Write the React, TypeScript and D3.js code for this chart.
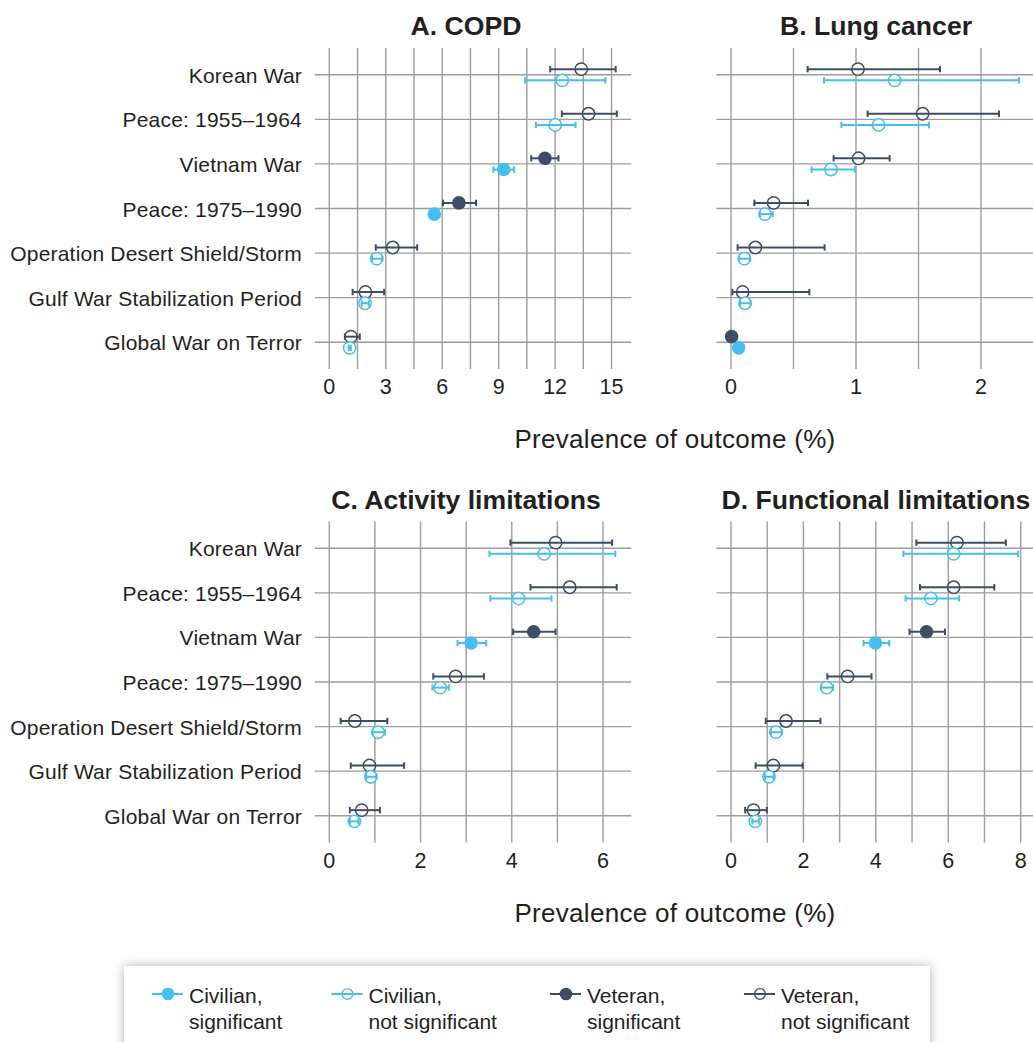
import React from "react";
import * as d3 from "d3";

const categories = [
  "Korean War",
  "Peace: 1955–1964",
  "Vietnam War",
  "Peace: 1975–1990",
  "Operation Desert Shield/Storm",
  "Gulf War Stabilization Period",
  "Global War on Terror",
];

const panelTitles = ["A. COPD", "B. Lung cancer", "C. Activity limitations", "D. Functional limitations"];
const xDomainMax = [16.05, 2.416, 6.62, 8.34];
const gridSteps = [1.5, 0.5, 1, 1];
const tickLabelsA = [0, 3, 6, 9, 12, 15];
const tickLabelsB = [0, 1, 2];
const tickLabelsC = [0, 2, 4, 6];
const tickLabelsD = [0, 2, 4, 6, 8];

// Panel A: COPD
const copdVetEst = [13.39, 13.78, 11.46, 6.89, 3.37, 1.92, 1.15];
const copdVetLo = [11.74, 12.36, 10.73, 6.04, 2.47, 1.24, 0.83];
const copdVetHi = [15.22, 15.28, 12.18, 7.8, 4.67, 2.91, 1.62];
const copdVetSig = [0, 0, 1, 1, 0, 0, 0];
const copdCivEst = [12.38, 12.01, 9.27, 5.58, 2.52, 1.9, 1.08];
const copdCivLo = [10.41, 10.98, 8.72, 5.52, 2.27, 1.72, 1.03];
const copdCivHi = [14.67, 13.09, 9.82, 5.64, 2.81, 2.1, 1.14];
const copdCivSig = [0, 0, 1, 1, 0, 0, 0];

// Panel B: Lung cancer
const lungVetEst = [1.016, 1.533, 1.021, 0.341, 0.195, 0.093, 0.005];
const lungVetLo = [0.613, 1.093, 0.821, 0.187, 0.053, 0.011, 0.0];
const lungVetHi = [1.672, 2.144, 1.269, 0.616, 0.749, 0.627, 0.01];
const lungVetSig = [0, 0, 0, 0, 0, 0, 1];
const lungCivEst = [1.309, 1.181, 0.8, 0.272, 0.107, 0.112, 0.061];
const lungCivLo = [0.744, 0.883, 0.645, 0.232, 0.064, 0.072, 0.055];
const lungCivHi = [2.304, 1.584, 0.992, 0.333, 0.152, 0.157, 0.067];
const lungCivSig = [0, 0, 0, 0, 0, 0, 1];

// Panel C: Activity limitations
const actVetEst = [4.96, 5.27, 4.48, 2.77, 0.56, 0.88, 0.71];
const actVetLo = [3.97, 4.41, 4.03, 2.28, 0.25, 0.47, 0.45];
const actVetHi = [6.2, 6.3, 4.96, 3.39, 1.27, 1.64, 1.11];
const actVetSig = [0, 0, 1, 0, 0, 0, 0];
const actCivEst = [4.71, 4.15, 3.11, 2.43, 1.07, 0.91, 0.55];
const actCivLo = [3.51, 3.53, 2.81, 2.26, 0.95, 0.81, 0.45];
const actCivHi = [6.27, 4.87, 3.44, 2.62, 1.22, 1.03, 0.64];
const actCivSig = [0, 0, 1, 0, 0, 0, 0];

// Panel D: Functional limitations
const funVetEst = [6.24, 6.15, 5.4, 3.22, 1.52, 1.17, 0.62];
const funVetLo = [5.12, 5.22, 4.93, 2.66, 0.96, 0.68, 0.39];
const funVetHi = [7.59, 7.27, 5.91, 3.88, 2.47, 1.98, 0.99];
const funVetSig = [0, 0, 1, 0, 0, 0, 0];
const funCivEst = [6.15, 5.52, 3.99, 2.64, 1.24, 1.05, 0.67];
const funCivLo = [4.76, 4.82, 3.66, 2.49, 1.1, 0.94, 0.59];
const funCivHi = [7.93, 6.3, 4.37, 2.82, 1.4, 1.18, 0.77];
const funCivSig = [0, 0, 1, 0, 0, 0, 0];

const legendLabels = [
  ["Civilian,", "significant"],
  ["Civilian,", "not significant"],
  ["Veteran,", "significant"],
  ["Veteran,", "not significant"],
];

const CIV = "#45bfee";
const VET = "#3f4c66";
const GRID = "#9c9c9c";
const TEXT = "#231f20";
const FONT = "'Liberation Sans', Arial, Helvetica, sans-serif";

type Series = { est: number[]; lo: number[]; hi: number[]; sig: number[] };

const panels: { vet: Series; civ: Series; ticks: number[] }[] = [
  { vet: { est: copdVetEst, lo: copdVetLo, hi: copdVetHi, sig: copdVetSig }, civ: { est: copdCivEst, lo: copdCivLo, hi: copdCivHi, sig: copdCivSig }, ticks: tickLabelsA },
  { vet: { est: lungVetEst, lo: lungVetLo, hi: lungVetHi, sig: lungVetSig }, civ: { est: lungCivEst, lo: lungCivLo, hi: lungCivHi, sig: lungCivSig }, ticks: tickLabelsB },
  { vet: { est: actVetEst, lo: actVetLo, hi: actVetHi, sig: actVetSig }, civ: { est: actCivEst, lo: actCivLo, hi: actCivHi, sig: actCivSig }, ticks: tickLabelsC },
  { vet: { est: funVetEst, lo: funVetLo, hi: funVetHi, sig: funVetSig }, civ: { est: funCivEst, lo: funCivLo, hi: funCivHi, sig: funCivSig }, ticks: tickLabelsD },
];

const colX = [329.3, 731];
const plotW = 302;
const rowTop = [48, 521.5];
const plotH = 321;

function Marker({ cx, cy, color, filled, lo, hi }: any) {
  const cap = 3.2;
  return (
    <g>
      {!filled && <circle cx={cx} cy={cy} r={6.2} fill="#fff" stroke="none" />}
      {filled && <circle cx={cx} cy={cy} r={6.8} fill={color} />}
      {hi - lo > 0.5 && (
        <g stroke={color} strokeWidth={2}>
          <line x1={lo} x2={hi} y1={cy} y2={cy} />
          <line x1={lo} x2={lo} y1={cy - cap} y2={cy + cap} />
          <line x1={hi} x2={hi} y1={cy - cap} y2={cy + cap} />
        </g>
      )}
      {!filled && <circle cx={cx} cy={cy} r={6.2} fill="none" stroke={color} strokeWidth={1.5} />}
    </g>
  );
}

function Panel({ idx }: { idx: number }) {
  const p = panels[idx];
  const col = idx % 2;
  const row = Math.floor(idx / 2);
  const x0 = colX[col];
  const y0 = rowTop[row];
  const x = d3.scaleLinear().domain([0, xDomainMax[idx]]).range([x0, x0 + plotW]);
  const y = d3.scalePoint<string>().domain(categories).range([y0, y0 + plotH]).padding(0.6);
  const step = gridSteps[idx];
  const grid = d3.range(0, xDomainMax[idx] + 1e-9, step);
  const off = 5.6;
  const titleX = col === 0 ? 466 : 876;
  return (
    <g>
      <text x={titleX} y={y0 - 13} textAnchor="middle" fontSize={26.6} fontWeight="bold" fill={TEXT} fontFamily={FONT}>
        {panelTitles[idx]}
      </text>
      {grid.map((g) => (
        <line key={"v" + g} x1={x(g)} x2={x(g)} y1={y0} y2={y0 + plotH} stroke={GRID} strokeWidth={1.4} />
      ))}
      {categories.map((c) => (
        <line key={"h" + c} x1={x0 - 14.5} x2={x0 + plotW} y1={y(c)} y2={y(c)} stroke={GRID} strokeWidth={1.4} />
      ))}
      {col === 0 &&
        categories.map((c) => (
          <text key={"l" + c} x={302} y={(y(c) as number) + 8} textAnchor="end" fontSize={21} letterSpacing={0.2} fill={TEXT} fontFamily={FONT}>
            {c}
          </text>
        ))}
      {p.ticks.map((t) => (
        <text key={"t" + t} x={x(t)} y={y0 + plotH + 25} textAnchor="middle" fontSize={21.5} fill={TEXT} fontFamily={FONT}>
          {t}
        </text>
      ))}
      {categories.map((c, i) => {
        const cy = y(c) as number;
        return (
          <g key={"m" + c}>
            <Marker cx={x(p.vet.est[i])} cy={cy - off} color={VET} filled={p.vet.sig[i] === 1} lo={x(p.vet.lo[i])} hi={x(p.vet.hi[i])} />
            <Marker cx={x(p.civ.est[i])} cy={cy + off} color={CIV} filled={p.civ.sig[i] === 1} lo={x(p.civ.lo[i])} hi={x(p.civ.hi[i])} />
          </g>
        );
      })}
    </g>
  );
}

function LegendItem({ x, y, color, filled, lines }: any) {
  return (
    <g>
      <line x1={x} x2={x + 31} y1={y} y2={y} stroke={color} strokeWidth={2} />
      {filled ? (
        <circle cx={x + 16} cy={y} r={6.3} fill={color} />
      ) : (
        <circle cx={x + 16} cy={y} r={5.4} fill="none" stroke={color} strokeWidth={1.4} />
      )}
      <text x={x + 37} y={y + 8.5} fontSize={21} fill={TEXT} fontFamily={FONT}>
        {lines[0]}
      </text>
      <text x={x + 37} y={y + 34.5} fontSize={21} fill={TEXT} fontFamily={FONT}>
        {lines[1]}
      </text>
    </g>
  );
}

export default function App() {
  const legendX = [152, 331.5, 550, 744];
  const legendColors = [CIV, CIV, VET, VET];
  const legendFilled = [true, false, true, false];
  return (
    <div style={{ position: "absolute", left: 0, top: 0 }}>
      <svg width={1033} height={1042} style={{ display: "block", background: "#fff" }}>
        <defs>
          <filter id="shadow" x="-10%" y="-40%" width="120%" height="180%">
            <feDropShadow dx={0} dy={0} stdDeviation={6} floodColor="#000" floodOpacity={0.3} />
          </filter>
        </defs>
        <rect x={0} y={0} width={1033} height={1042} fill="#fff" />
        {[0, 1, 2, 3].map((i) => (
          <Panel key={i} idx={i} />
        ))}
        {[0, 1].map((r) => (
          <text key={"xt" + r} x={675} y={r === 0 ? 448 : 921.5} textAnchor="middle" fontSize={26} letterSpacing={0.3} fill={TEXT} fontFamily={FONT}>
            Prevalence of outcome (%)
          </text>
        ))}
        <rect x={124} y={966} width={806} height={90} fill="#fff" filter="url(#shadow)" />
        {legendLabels.map((l, i) => (
          <LegendItem key={i} x={legendX[i]} y={994} color={legendColors[i]} filled={legendFilled[i]} lines={l} />
        ))}
      </svg>
    </div>
  );
}
